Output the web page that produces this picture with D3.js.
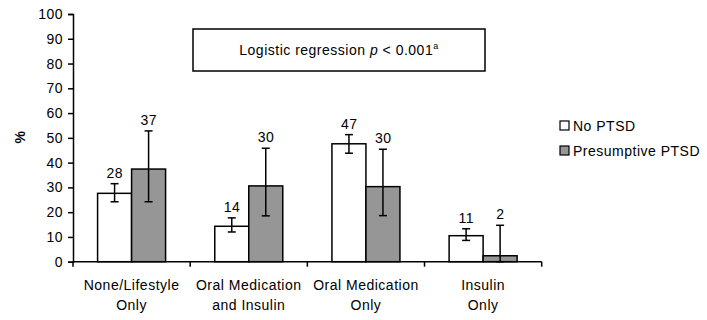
<!DOCTYPE html>
<html>
<head>
<meta charset="utf-8">
<script src="https://cdn.jsdelivr.net/npm/d3@7"></script>
<style>
  body { margin: 0; background: #fff; }
  text { font-family: Arial, "Liberation Sans", sans-serif; fill: #000; letter-spacing: 0.5px; }
</style>
</head>
<body>
<div id="wrapper"></div>
<script>
// Dados
const categories = [["None/Lifestyle", "Only"], ["Oral Medication", "and Insulin"], ["Oral Medication", "Only"], ["Insulin", "Only"]];
const seriesNames = ["No PTSD", "Presumptive PTSD"];
const noPtsd = [27.6, 14.3, 47.6, 10.5];
const noPtsdLow = [24.2, 12.0, 43.8, 8.6];
const noPtsdHigh = [31.5, 17.7, 51.3, 13.3];
const noPtsdLabels = ["28", "14", "47", "11"];
const ptsd = [37.4, 30.6, 30.3, 2.4];
const ptsdLow = [24.2, 18.5, 18.6, 0];
const ptsdHigh = [52.8, 45.8, 45.4, 14.7];
const ptsdLabels = ["37", "30", "30", "2"];
const yTicks = [0, 10, 20, 30, 40, 50, 60, 70, 80, 90, 100];
const colors = ["#ffffff", "#969696"];

function draw() {
  const width = 707, height = 320;
  const svg = d3.select("#wrapper").append("svg")
    .attr("width", width).attr("height", height);

  const catKeys = categories.map(d => d.join(" "));
  const x = d3.scaleBand().domain(catKeys).range([73, 541.7]).padding(0);
  const barW = 34;
  const x1 = d3.scaleBand().domain(seriesNames)
    .range([x.bandwidth() / 2 - barW, x.bandwidth() / 2 + barW]);
  const y = d3.scaleLinear().domain([0, 100]).range([261.7, 14]);

  const rows = catKeys.map((c, i) => [
    { cat: c, s: seriesNames[0], v: noPtsd[i], lo: noPtsdLow[i], hi: noPtsdHigh[i], label: noPtsdLabels[i], color: colors[0] },
    { cat: c, s: seriesNames[1], v: ptsd[i], lo: ptsdLow[i], hi: ptsdHigh[i], label: ptsdLabels[i], color: colors[1] }
  ]).flat();

  // eixo y
  const yAxis = svg.append("g")
    .attr("transform", "translate(73,0)")
    .call(d3.axisLeft(y).tickValues(yTicks).tickSize(5).tickPadding(5));
  yAxis.select(".domain").attr("stroke", "#000").attr("stroke-width", 1.5);
  yAxis.selectAll(".tick line").attr("stroke", "#000").attr("stroke-width", 1.5);
  yAxis.selectAll("text").attr("font-size", 14).attr("font-family", "Arial, 'Liberation Sans', sans-serif").attr("fill", "#000");

  svg.append("text")
    .attr("transform", "translate(25,137) rotate(-90)")
    .attr("text-anchor", "middle")
    .attr("font-size", 14)
    .attr("font-weight", "bold")
    .text("%");

  // barras
  const bars = svg.append("g");
  bars.selectAll("rect").data(rows).enter().append("rect")
    .attr("x", d => x(d.cat) + x1(d.s))
    .attr("y", d => y(d.v))
    .attr("width", x1.bandwidth())
    .attr("height", d => y(0) - y(d.v))
    .attr("fill", d => d.color)
    .attr("stroke", "#000")
    .attr("stroke-width", 1.5);

  // barras de erro
  const cx = d => x(d.cat) + x1(d.s) + x1.bandwidth() / 2;
  const err = svg.append("g").attr("stroke", "#000").attr("stroke-width", 1.5);
  err.selectAll(".v").data(rows).enter().append("line")
    .attr("x1", cx).attr("x2", cx)
    .attr("y1", d => y(d.lo)).attr("y2", d => y(d.hi));
  err.selectAll(".t").data(rows).enter().append("line")
    .attr("x1", d => cx(d) - 4).attr("x2", d => cx(d) + 4)
    .attr("y1", d => y(d.hi)).attr("y2", d => y(d.hi));
  err.selectAll(".b").data(rows).enter().append("line")
    .attr("x1", d => cx(d) - 4).attr("x2", d => cx(d) + 4)
    .attr("y1", d => y(d.lo)).attr("y2", d => y(d.lo));

  svg.append("g").selectAll("text").data(rows).enter().append("text")
    .attr("x", d => cx(d) + 0.25)
    .attr("y", d => y(d.hi) - 6)
    .attr("text-anchor", "middle")
    .attr("font-size", 14)
    .text(d => d.label);

  // eixo x
  const xAxis = svg.append("g")
    .attr("transform", "translate(0," + y(0) + ")");
  xAxis.append("line")
    .attr("x1", x.range()[0]).attr("x2", x.range()[1])
    .attr("stroke", "#000").attr("stroke-width", 1.5);
  const edges = catKeys.map(c => x(c)).concat([x.range()[1]]);
  xAxis.selectAll(".tk").data(edges).enter().append("line")
    .attr("x1", d => d).attr("x2", d => d)
    .attr("y1", 0).attr("y2", 5)
    .attr("stroke", "#000").attr("stroke-width", 1.5);
  const catLabels = xAxis.selectAll(".cl").data(categories).enter().append("text")
    .attr("text-anchor", "middle")
    .attr("font-size", 14);
  catLabels.selectAll("tspan").data((d, i) => d.map(t => ({ t, c: catKeys[i] }))).enter().append("tspan")
    .attr("x", d => x(d.c) + x.bandwidth() / 2)
    .attr("y", (d, j) => 28 + j * 20)
    .text(d => d.t);

  // caixa do teste
  svg.append("rect")
    .attr("x", 193).attr("y", 29).attr("width", 292).attr("height", 42)
    .attr("fill", "#fff").attr("stroke", "#000").attr("stroke-width", 1.5);
  const note = svg.append("text")
    .attr("x", 339).attr("y", 54.5)
    .attr("text-anchor", "middle")
    .attr("font-size", 14);
  note.append("tspan").text("Logistic regression ");
  note.append("tspan").attr("font-style", "italic").text("p");
  note.append("tspan").text(" < 0.001");
  note.append("tspan").attr("font-size", 9).attr("dy", -6).text("a");

  // legenda
  const legend = svg.append("g").selectAll("g").data(seriesNames).enter().append("g")
    .attr("transform", (d, i) => "translate(560," + (121 + i * 25) + ")");
  legend.append("rect")
    .attr("width", 9).attr("height", 9)
    .attr("fill", (d, i) => colors[i])
    .attr("stroke", "#000").attr("stroke-width", 1.2);
  legend.append("text")
    .attr("x", 13).attr("y", 9.5)
    .attr("font-size", 14)
    .text(d => d);
}
draw();
</script>
</body>
</html>
